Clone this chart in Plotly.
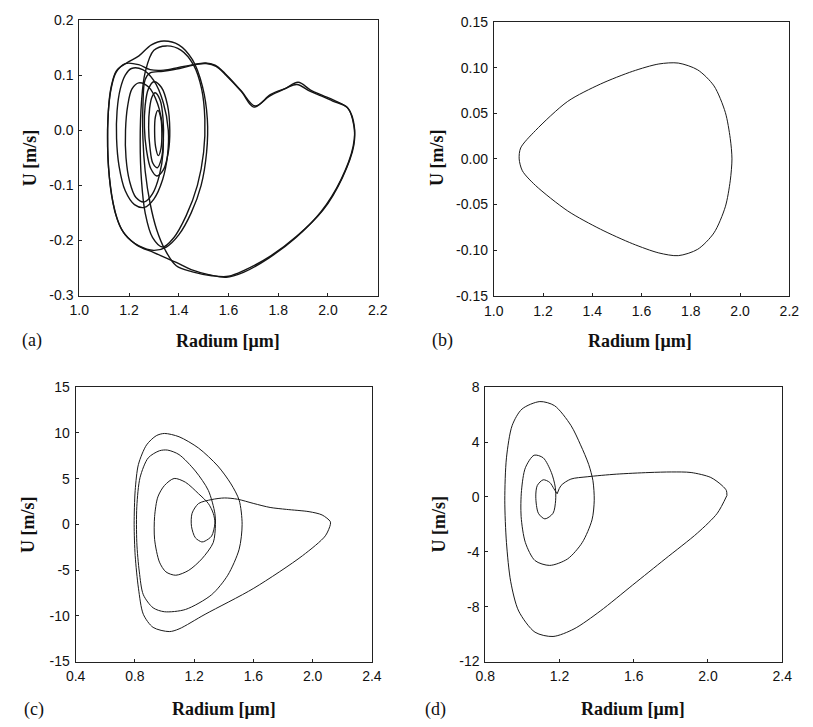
import plotly.graph_objects as go

W, H = 813, 727

# ---------------- (a) chaotic oscillation: several passes of the orbit ----------------
a_heart1_r = [1.285, 1.337, 1.403, 1.455, 1.507, 1.546, 1.586, 1.650, 1.707, 1.770, 1.830, 1.875, 1.927, 1.975,
              2.019, 2.078, 2.104, 2.104, 2.058, 1.980, 1.875, 1.770, 1.665, 1.600, 1.533, 1.455, 1.390, 1.344,
              1.311, 1.285, 1.265, 1.256, 1.256, 1.265, 1.285]
a_heart1_u = [0.104, 0.107, 0.112, 0.118, 0.122, 0.118, 0.103, 0.072, 0.044, 0.065, 0.076, 0.083, 0.071, 0.062,
              0.053, 0.041, 0.009, -0.027, -0.086, -0.145, -0.192, -0.228, -0.254, -0.265, -0.264, -0.257, -0.246,
              -0.216, -0.180, -0.133, -0.074, -0.015, 0.044, 0.092, 0.104]

a_heart2_r = [1.285, 1.340, 1.400, 1.460, 1.510, 1.550, 1.590, 1.652, 1.702, 1.765, 1.826, 1.880, 1.930,
              1.980, 2.025, 2.082, 2.106, 2.101, 2.052, 1.972, 1.868, 1.762, 1.660, 1.590, 1.520, 1.450, 1.390,
              1.300, 1.230, 1.170, 1.135, 1.118, 1.114, 1.118, 1.128, 1.148, 1.185, 1.239, 1.285]
a_heart2_u = [0.110, 0.109, 0.114, 0.119, 0.121, 0.116, 0.100, 0.070, 0.042, 0.062, 0.075, 0.087, 0.073,
              0.063, 0.054, 0.039, 0.006, -0.030, -0.090, -0.148, -0.196, -0.232, -0.258, -0.267, -0.262, -0.253,
              -0.240, -0.222, -0.208, -0.180, -0.130, -0.070, -0.010, 0.040, 0.075, 0.105, 0.121, 0.119, 0.110]

a_egg_r = [1.190, 1.240, 1.290, 1.340, 1.400, 1.455, 1.495, 1.515, 1.512, 1.490, 1.450, 1.400, 1.350, 1.300,
           1.240, 1.185, 1.148, 1.125, 1.114, 1.117, 1.128, 1.150, 1.190]
a_egg_u = [0.122, 0.135, 0.155, 0.162, 0.155, 0.128, 0.080, 0.020, -0.040, -0.100, -0.150, -0.190, -0.212,
           -0.218, -0.210, -0.190, -0.155, -0.100, -0.030, 0.035, 0.078, 0.108, 0.122]

a_tall_r = [1.300, 1.350, 1.410, 1.460, 1.492, 1.505, 1.500, 1.475, 1.430, 1.380, 1.335, 1.295, 1.265, 1.250,
            1.245, 1.250, 1.265, 1.300]
a_tall_u = [0.145, 0.153, 0.145, 0.118, 0.075, 0.020, -0.040, -0.100, -0.155, -0.195, -0.212, -0.195, -0.150,
            -0.090, -0.020, 0.050, 0.105, 0.145]

a_mid1_r = [1.210, 1.255, 1.300, 1.338, 1.358, 1.355, 1.335, 1.300, 1.262, 1.222, 1.185, 1.160, 1.150, 1.152,
            1.165, 1.185, 1.210]
a_mid1_u = [0.112, 0.110, 0.090, 0.050, 0.000, -0.045, -0.090, -0.125, -0.140, -0.135, -0.110, -0.065, -0.015,
            0.035, 0.075, 0.100, 0.112]

a_mid2_r = [1.239, 1.280, 1.315, 1.335, 1.337, 1.322, 1.295, 1.262, 1.228, 1.202, 1.188, 1.186, 1.195, 1.212, 1.239]
a_mid2_u = [0.086, 0.078, 0.048, 0.005, -0.040, -0.082, -0.115, -0.130, -0.122, -0.092, -0.050, 0.000, 0.045,
            0.075, 0.086]

a_in1_r = [1.300, 1.330, 1.355, 1.364, 1.358, 1.338, 1.312, 1.288, 1.270, 1.262, 1.265, 1.278, 1.300]
a_in1_u = [0.088, 0.078, 0.045, 0.000, -0.040, -0.072, -0.083, -0.070, -0.035, 0.005, 0.045, 0.075, 0.088]

a_in2_r = [1.305, 1.325, 1.337, 1.338, 1.330, 1.314, 1.296, 1.284, 1.279, 1.283, 1.292, 1.305]
a_in2_u = [0.068, 0.055, 0.020, -0.020, -0.052, -0.068, -0.060, -0.030, 0.005, 0.040, 0.060, 0.068]

a_in3_r = [1.316, 1.328, 1.332, 1.329, 1.318, 1.307, 1.303, 1.306, 1.316]
a_in3_u = [0.036, 0.022, -0.005, -0.032, -0.046, -0.030, -0.002, 0.024, 0.036]

# ---------------- (b) stable period-one orbit ----------------
b_r = [1.749, 1.828, 1.894, 1.940, 1.960, 1.967, 1.960, 1.940, 1.894, 1.828, 1.749, 1.670, 1.564, 1.433, 1.300,
       1.169, 1.116, 1.103, 1.109, 1.169, 1.300, 1.433, 1.564, 1.670, 1.749]
b_u = [0.105, 0.0975, 0.080, 0.051, 0.0225, 0.0, -0.024, -0.0525, -0.081, -0.099, -0.106, -0.103, -0.093,
       -0.077, -0.057, -0.029, -0.013, 0.0, 0.012, 0.031, 0.063, 0.082, 0.096, 0.104, 0.105]

# ---------------- (c) multi-loop orbit ----------------
c_r = [2.120, 2.086, 1.932, 1.603, 1.274, 1.098, 1.032, 0.923, 0.857, 0.824, 0.802, 0.795, 0.802, 0.824, 0.879,
       0.944, 0.999, 1.098, 1.230, 1.360, 1.449, 1.504, 1.524, 1.504, 1.427, 1.318, 1.142, 0.999, 0.923, 0.857,
       0.830, 0.813, 0.813, 0.835, 0.890, 0.966, 1.021, 1.098, 1.208, 1.296, 1.340, 1.344, 1.329, 1.252, 1.164,
       1.076, 1.010, 0.966, 0.933, 0.933, 0.955, 0.999, 1.065, 1.142, 1.230, 1.296, 1.329, 1.340, 1.318, 1.274,
       1.252, 1.208, 1.182, 1.186, 1.230, 1.318, 1.405, 1.493, 1.603, 1.713, 1.823, 1.976, 2.064, 2.119, 2.120]
c_u = [0.00, -1.25, -3.42, -6.98, -9.83, -11.43, -11.72, -11.26, -9.83, -6.98, -3.42, 0.00, 3.71, 6.56, 8.69,
       9.69, 9.94, 9.58, 8.34, 6.38, 4.42, 2.64, 0.00, -2.71, -5.56, -7.69, -9.30, -9.55, -9.12, -7.69,
       -5.20, -1.99, 1.93, 5.13, 7.27, 8.05, 8.12, 7.63, 5.84, 3.71, 1.21, 0.00, -1.99, -3.77, -5.02,
       -5.56, -5.20, -4.13, -1.64, 0.86, 3.00, 4.24, 5.02, 4.60, 3.35, 2.28, 1.21, 0.14, -1.28, -1.82,
       -1.92, -1.46, -0.21, 1.21, 2.28, 2.71, 2.89, 2.75, 2.28, 1.85, 1.64, 1.39, 1.03, 0.32, 0.00]

# ---------------- (d) spiral orbit (split at the cusp) ----------------
d1_r = [2.102, 2.050, 1.944, 1.769, 1.594, 1.419, 1.278, 1.165, 1.068, 0.980, 0.937, 0.914, 0.905, 0.914, 0.945,
        0.998, 1.094, 1.173, 1.261, 1.313, 1.357, 1.380, 1.387, 1.375, 1.322, 1.243, 1.147, 1.068, 1.016, 0.993,
        0.995, 1.016, 1.063, 1.112, 1.156, 1.177, 1.179, 1.165, 1.121, 1.086, 1.072, 1.080, 1.112, 1.147, 1.170,
        1.187]
d1_u = [0.11, -1.19, -2.62, -4.52, -6.42, -8.32, -9.62, -10.17, -9.86, -8.32, -6.18, -3.33, -0.24, 2.85, 5.22,
        6.41, 6.95, 6.65, 5.22, 3.80, 2.37, 1.18, -0.24, -1.67, -3.33, -4.52, -4.99, -4.64, -3.33, -1.43,
        0.47, 2.13, 3.04, 2.85, 1.78, 0.71, -0.24, -1.19, -1.60, -1.19, 0.00, 0.83, 1.25, 1.06, 0.59,
        0.23]
d2_r = [1.187, 1.208, 1.261, 1.349, 1.506, 1.682, 1.804, 1.909, 2.015, 2.076, 2.099, 2.102]
d2_u = [0.23, 0.83, 1.30, 1.47, 1.66, 1.78, 1.82, 1.78, 1.42, 0.83, 0.47, 0.11]

# ---------------- tick values / labels ----------------
a_xticks = [1.0, 1.2, 1.4, 1.6, 1.8, 2.0, 2.2]
a_xlabels = ["1.0", "1.2", "1.4", "1.6", "1.8", "2.0", "2.2"]
a_yticks = [-0.3, -0.2, -0.1, 0.0, 0.1, 0.2]
a_ylabels = ["-0.3", "-0.2", "-0.1", "0.0", "0.1", "0.2"]
b_yticks = [-0.15, -0.10, -0.05, 0.0, 0.05, 0.10, 0.15]
b_ylabels = ["-0.15", "-0.10", "-0.05", "0.00", "0.05", "0.10", "0.15"]
c_xticks = [0.4, 0.8, 1.2, 1.6, 2.0, 2.4]
c_xlabels = ["0.4", "0.8", "1.2", "1.6", "2.0", "2.4"]
c_yticks = [-15, -10, -5, 0, 5, 10, 15]
c_ylabels = ["-15", "-10", "-5", "0", "5", "10", "15"]
d_xticks = [0.8, 1.2, 1.6, 2.0, 2.4]
d_xlabels = ["0.8", "1.2", "1.6", "2.0", "2.4"]
d_yticks = [-12, -8, -4, 0, 4, 8]
d_ylabels = ["-12", "-8", "-4", "0", "4", "8"]

fig = go.Figure()


def add_curve(r, u, xa, ya, width=1.0, color="#1a1a1a", smoothing=0.8):
    fig.add_trace(go.Scatter(x=r, y=u, xaxis=xa, yaxis=ya, mode="lines",
                             line=dict(color=color, width=width, shape="spline", smoothing=smoothing),
                             hoverinfo="skip"))


for rr, uu in [(a_heart1_r, a_heart1_u), (a_heart2_r, a_heart2_u), (a_egg_r, a_egg_u),
               (a_tall_r, a_tall_u), (a_mid1_r, a_mid1_u), (a_mid2_r, a_mid2_u),
               (a_in1_r, a_in1_u), (a_in2_r, a_in2_u), (a_in3_r, a_in3_u)]:
    add_curve(rr, uu, "x", "y", width=1.4, color="#151515", smoothing=1.0)

add_curve(b_r, b_u, "x2", "y2", width=1.0)
add_curve(c_r, c_u, "x3", "y3", width=1.0)
add_curve(d1_r, d1_u, "x4", "y4", width=1.0)
add_curve(d2_r, d2_u, "x4", "y4", width=1.0)


def px_dom(x0, x1):
    return [x0 / W, x1 / W]


def py_dom(top, bottom):
    return [1 - bottom / H, 1 - top / H]


axis_common = dict(showgrid=False, zeroline=False, showline=True, linecolor="#222", linewidth=1,
                   mirror=True, ticks="inside", ticklen=3, tickcolor="#222", tickwidth=1,
                   ticklabelstandoff=2,
                   tickfont=dict(family="Liberation Sans, Arial", size=14, color="#111"))

fig.update_layout(
    width=W, height=H, margin=dict(l=0, r=0, t=0, b=0),
    paper_bgcolor="white", plot_bgcolor="white", showlegend=False,
    xaxis=dict(domain=px_dom(71, 377), range=[1.0, 2.2], tickvals=a_xticks, ticktext=a_xlabels,
               anchor="y", **axis_common),
    yaxis=dict(domain=py_dom(12.3, 294), range=[-0.3, 0.2], tickvals=a_yticks, ticktext=a_ylabels,
               anchor="x", **axis_common),
    xaxis2=dict(domain=px_dom(496, 799), range=[1.0, 2.2], tickvals=a_xticks, ticktext=a_xlabels,
                anchor="y2", **axis_common),
    yaxis2=dict(domain=py_dom(14.3, 294.3), range=[-0.15, 0.15], tickvals=b_yticks, ticktext=b_ylabels,
                anchor="x2", **axis_common),
    xaxis3=dict(domain=px_dom(67.3, 371), range=[0.4, 2.4], tickvals=c_xticks, ticktext=c_xlabels,
                anchor="y3", **axis_common),
    yaxis3=dict(domain=py_dom(387.7, 668.3), range=[-15, 15], tickvals=c_yticks, ticktext=c_ylabels,
                anchor="x3", **axis_common),
    xaxis4=dict(domain=px_dom(487.3, 791.7), range=[0.8, 2.4], tickvals=d_xticks, ticktext=d_xlabels,
                anchor="y4", **axis_common),
    yaxis4=dict(domain=py_dom(387.7, 668.3), range=[-12, 8], tickvals=d_yticks, ticktext=d_ylabels,
                anchor="x4", **axis_common),
)

serif = "Liberation Serif, Times New Roman, serif"


def note(text, px, py, size=18, angle=0, bold=True, xanchor="center"):
    fig.add_annotation(text=("<b>%s</b>" % text) if bold else text, x=px / W, y=1 - py / H,
                       xref="paper", yref="paper", showarrow=False, textangle=angle,
                       xanchor=xanchor, yanchor="middle",
                       font=dict(family=serif, size=size, color="#111"))


# axis titles
for cx, cy in [(224, 340), (646, 340), (219, 717), (639, 717)]:
    note("Radium [μm]", cx, cy)
for cx, cy in [(20, 153), (437, 153), (19, 528), (440, 528)]:
    note("U [m/s]", cx, cy, angle=-90)

# panel letters
for lab, cx, cy in [("(a)", 10, 340), ("(b)", 431, 340), ("(c)", 12, 717), ("(d)", 423, 717)]:
    note(lab, cx, cy, bold=False, xanchor="left")

fig.write_html("out.html")
